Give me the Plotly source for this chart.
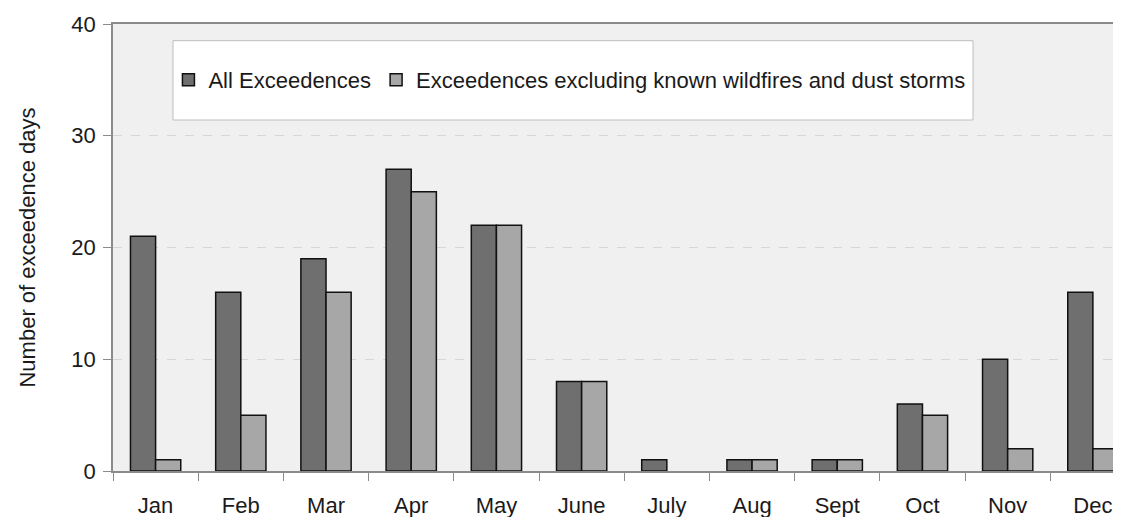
import plotly.graph_objects as go

months = ["Jan", "Feb", "Mar", "Apr", "May", "June", "July", "Aug", "Sept", "Oct", "Nov", "Dec"]
all_exceedences = [21, 16, 19, 27, 22, 8, 1, 1, 1, 6, 10, 16]
excl_wildfire_dust = [1, 5, 16, 25, 22, 8, 0, 1, 1, 5, 2, 2]
series_names = ["All Exceedences", "Exceedences excluding known wildfires and dust storms"]
y_ticks = [0, 10, 20, 30, 40]

FONT = "Liberation Sans, Arial, sans-serif"


def outline_widths(values):
    # zero-height bars get no outline (nothing drawn in the reference)
    return [1.5 if v > 0 else 0 for v in values]


# page body has an 8px default margin; compensate so the plot lands where the reference has it
fig = go.Figure()
fig.add_trace(go.Bar(x=months, y=all_exceedences, name=series_names[0],
                     marker=dict(color="#6f6f6f",
                                 line=dict(color="#111111", width=outline_widths(all_exceedences)))))
fig.add_trace(go.Bar(x=months, y=excl_wildfire_dust, name=series_names[1],
                     marker=dict(color="#a7a7a7",
                                 line=dict(color="#111111", width=outline_widths(excl_wildfire_dust)))))

fig.update_layout(
    width=1113, height=509,
    margin=dict(l=105, r=0, t=16, b=46),
    paper_bgcolor="white",
    plot_bgcolor="#f0f0f0",
    barmode="group",
    bargap=0.41,
    bargroupgap=0,
    font=dict(family=FONT, size=22, color="#1a1a1a"),
    showlegend=True,
    legend=dict(orientation="h", x=0.055, y=0.875, xanchor="left", yanchor="middle",
                bgcolor="rgba(0,0,0,0)", borderwidth=0,
                font=dict(family=FONT, size=22, color="#1a1a1a"),
                itemclick=False, traceorder="normal"),
    shapes=[dict(type="rect", xref="paper", yref="paper",
                 x0=(173 - 113) / 1008, x1=(973 - 113) / 1008,
                 y0=(471 - 120) / 447, y1=(471 - 40.7) / 447,
                 fillcolor="white", line=dict(color="#bdbdbd", width=1), layer="below")],
)

fig.update_xaxes(
    type="category",
    range=[-0.5, 11.33],
    showline=True, linecolor="#8a8a8a", linewidth=1.5, mirror=True,
    ticks="outside", ticklen=8, tickcolor="#8a8a8a", tickson="boundaries",
    ticklabelstandoff=14,
    showgrid=False,
    tickfont=dict(family=FONT, size=22, color="#1a1a1a"),
)
fig.update_yaxes(
    range=[0, 40],
    tickvals=y_ticks,
    showline=True, linecolor="#8a8a8a", linewidth=1.5,
    ticks="outside", ticklen=8, tickcolor="#8a8a8a",
    ticklabelstandoff=3,
    showgrid=True, gridcolor="#d6d6d6", griddash="dash", gridwidth=1,
    zeroline=False,
    tickfont=dict(family=FONT, size=22, color="#1a1a1a"),
    title=dict(text="Number of exceedence days", standoff=30,
               font=dict(family=FONT, size=22, color="#1a1a1a")),
)

fig.write_html("out.html")
